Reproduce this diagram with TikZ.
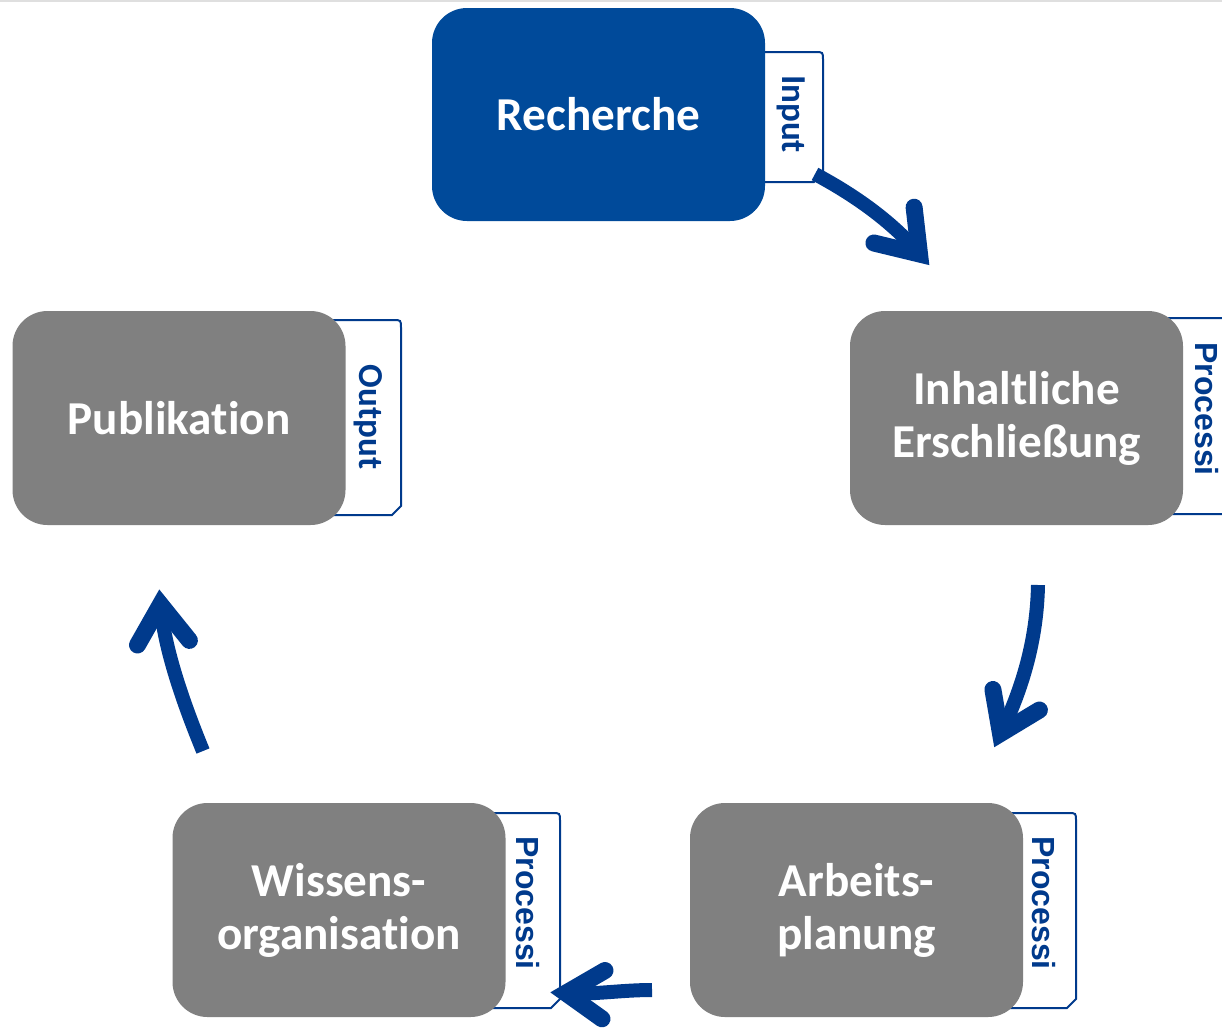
\documentclass[tikz,border=0pt]{standalone}
\usepackage{fontspec}
\newfontfamily\carlito[Ligatures={NoCommon,NoContextual,NoRequired},Contextuals=NoAlternate]{Carlito}
\newfontfamily\arialb{Liberation Sans}
\definecolor{rblue}{RGB}{0,74,154}
\definecolor{ablue}{RGB}{0,58,140}
\definecolor{gbox}{RGB}{128,128,128}
\tikzset{
  box/.style={rounded corners=17.5pt, minimum width=166.5pt, minimum height=107pt, text=white,
    font=\carlito\bfseries\fontsize{23.6}{26.5}\selectfont, align=center, inner sep=0pt},
  tabline/.style={draw=ablue, line width=1pt},
  tabtxt/.style={text=ablue, rotate=-90, inner sep=0pt, font=\carlito\bfseries\fontsize{17.5}{20}\selectfont},
  proctxt/.style={text=ablue, rotate=-90, inner sep=0pt, font=\arialb\bfseries\fontsize{16}{19}\selectfont},
  flow/.style={draw=ablue, line width=7pt},
  ahead/.style={draw=ablue, line width=8.5pt, line cap=round, line join=miter, miter limit=10},
}
\newcommand{\tabshape}[4]{% xl yt xr yb
  \draw[tabline] (#1,#2) -- ({#3-8},#2) .. controls (#3,#2) .. (#3,{#2+8}) -- (#3,{#4-9}) -- ({#3-9},#4) -- (#1,#4);}
\begin{document}
\begin{tikzpicture}[x=0.5pt,y=-0.5pt]
\useasboundingbox (0,0) rectangle (1222,1030);
\clip (0,0) rectangle (1222,1030);
\fill[white] (0,0) rectangle (1222,1030);
\draw[gray!25, line width=0.75pt] (0,0.75) -- (1222,0.75);

% tabs
\tabshape{745}{52}{823}{182}
\tabshape{1160}{318}{1250}{514}
\tabshape{326}{320}{401}{515}
\tabshape{486}{813}{560}{1008}
\tabshape{1003}{813}{1076}{1008}

% boxes
\node[box, fill=rblue, minimum height=106.5pt] (rech) at (598.5,114.5) {Recherche};
\node[box, fill=gbox] (inh) at (1016.5,418) {Inhaltliche\\Erschließung};
\node[box, fill=gbox] (pub) at (179,418) {Publikation};
\node[box, fill=gbox] (wis) at (339,910) {Wissens-\\organisation};
\node[box, fill=gbox] (arb) at (856.5,910) {Arbeits-\\planung};

% tab labels
\node[tabtxt] (tin) at (791,114) {Input};
\node[tabtxt] (tout) at (368,417) {Output};
\node[proctxt] (tp1) at (1207,409) {Processi};
\node[proctxt] (tp2) at (528,903) {Processi};
\node[proctxt] (tp3) at (1044,903) {Processi};

% arrow 1: Recherche -> Inhaltliche
\coordinate (a1s) at (815,174);
\coordinate (a1t) at (919.5,254);
\coordinate (a1l) at (873.9,243);
\coordinate (a1r) at (914.1,207.2);
\draw[flow] (a1s) .. controls (860,198) and (895,225) .. (a1t);
\draw[ahead] (a1l) -- (a1t) -- (a1r);

% arrow 2: Inhaltliche -> Arbeits
\coordinate (a2s) at (1038,585);
\coordinate (a2t) at (1000.5,733.5);
\coordinate (a2l) at (992.9,689.5);
\coordinate (a2r) at (1039.4,710);
\draw[flow] (a2s) .. controls (1037,640) and (1022,690) .. (a2t);
\draw[ahead] (a2l) -- (a2t) -- (a2r);

% arrow 3: Arbeits -> Wissens
\coordinate (a3s) at (652,990);
\coordinate (a3t) at (566,993.1);
\coordinate (a3l) at (605,970.5);
\coordinate (a3r) at (602,1018.8);
\draw[flow] (a3s) .. controls (620,990) and (592,995) .. (a3t);
\draw[ahead] (a3l) -- (a3t) -- (a3r);

% arrow 4: Wissens -> Publikation
\coordinate (a4s) at (203,751);
\coordinate (a4t) at (160.5,604.5);
\coordinate (a4l) at (137.5,645);
\coordinate (a4r) at (189.4,640.4);
\draw[flow] (a4s) .. controls (180,695) and (164,645) .. (a4t);
\draw[ahead] (a4l) -- (a4t) -- (a4r);
\end{tikzpicture}
\end{document}
